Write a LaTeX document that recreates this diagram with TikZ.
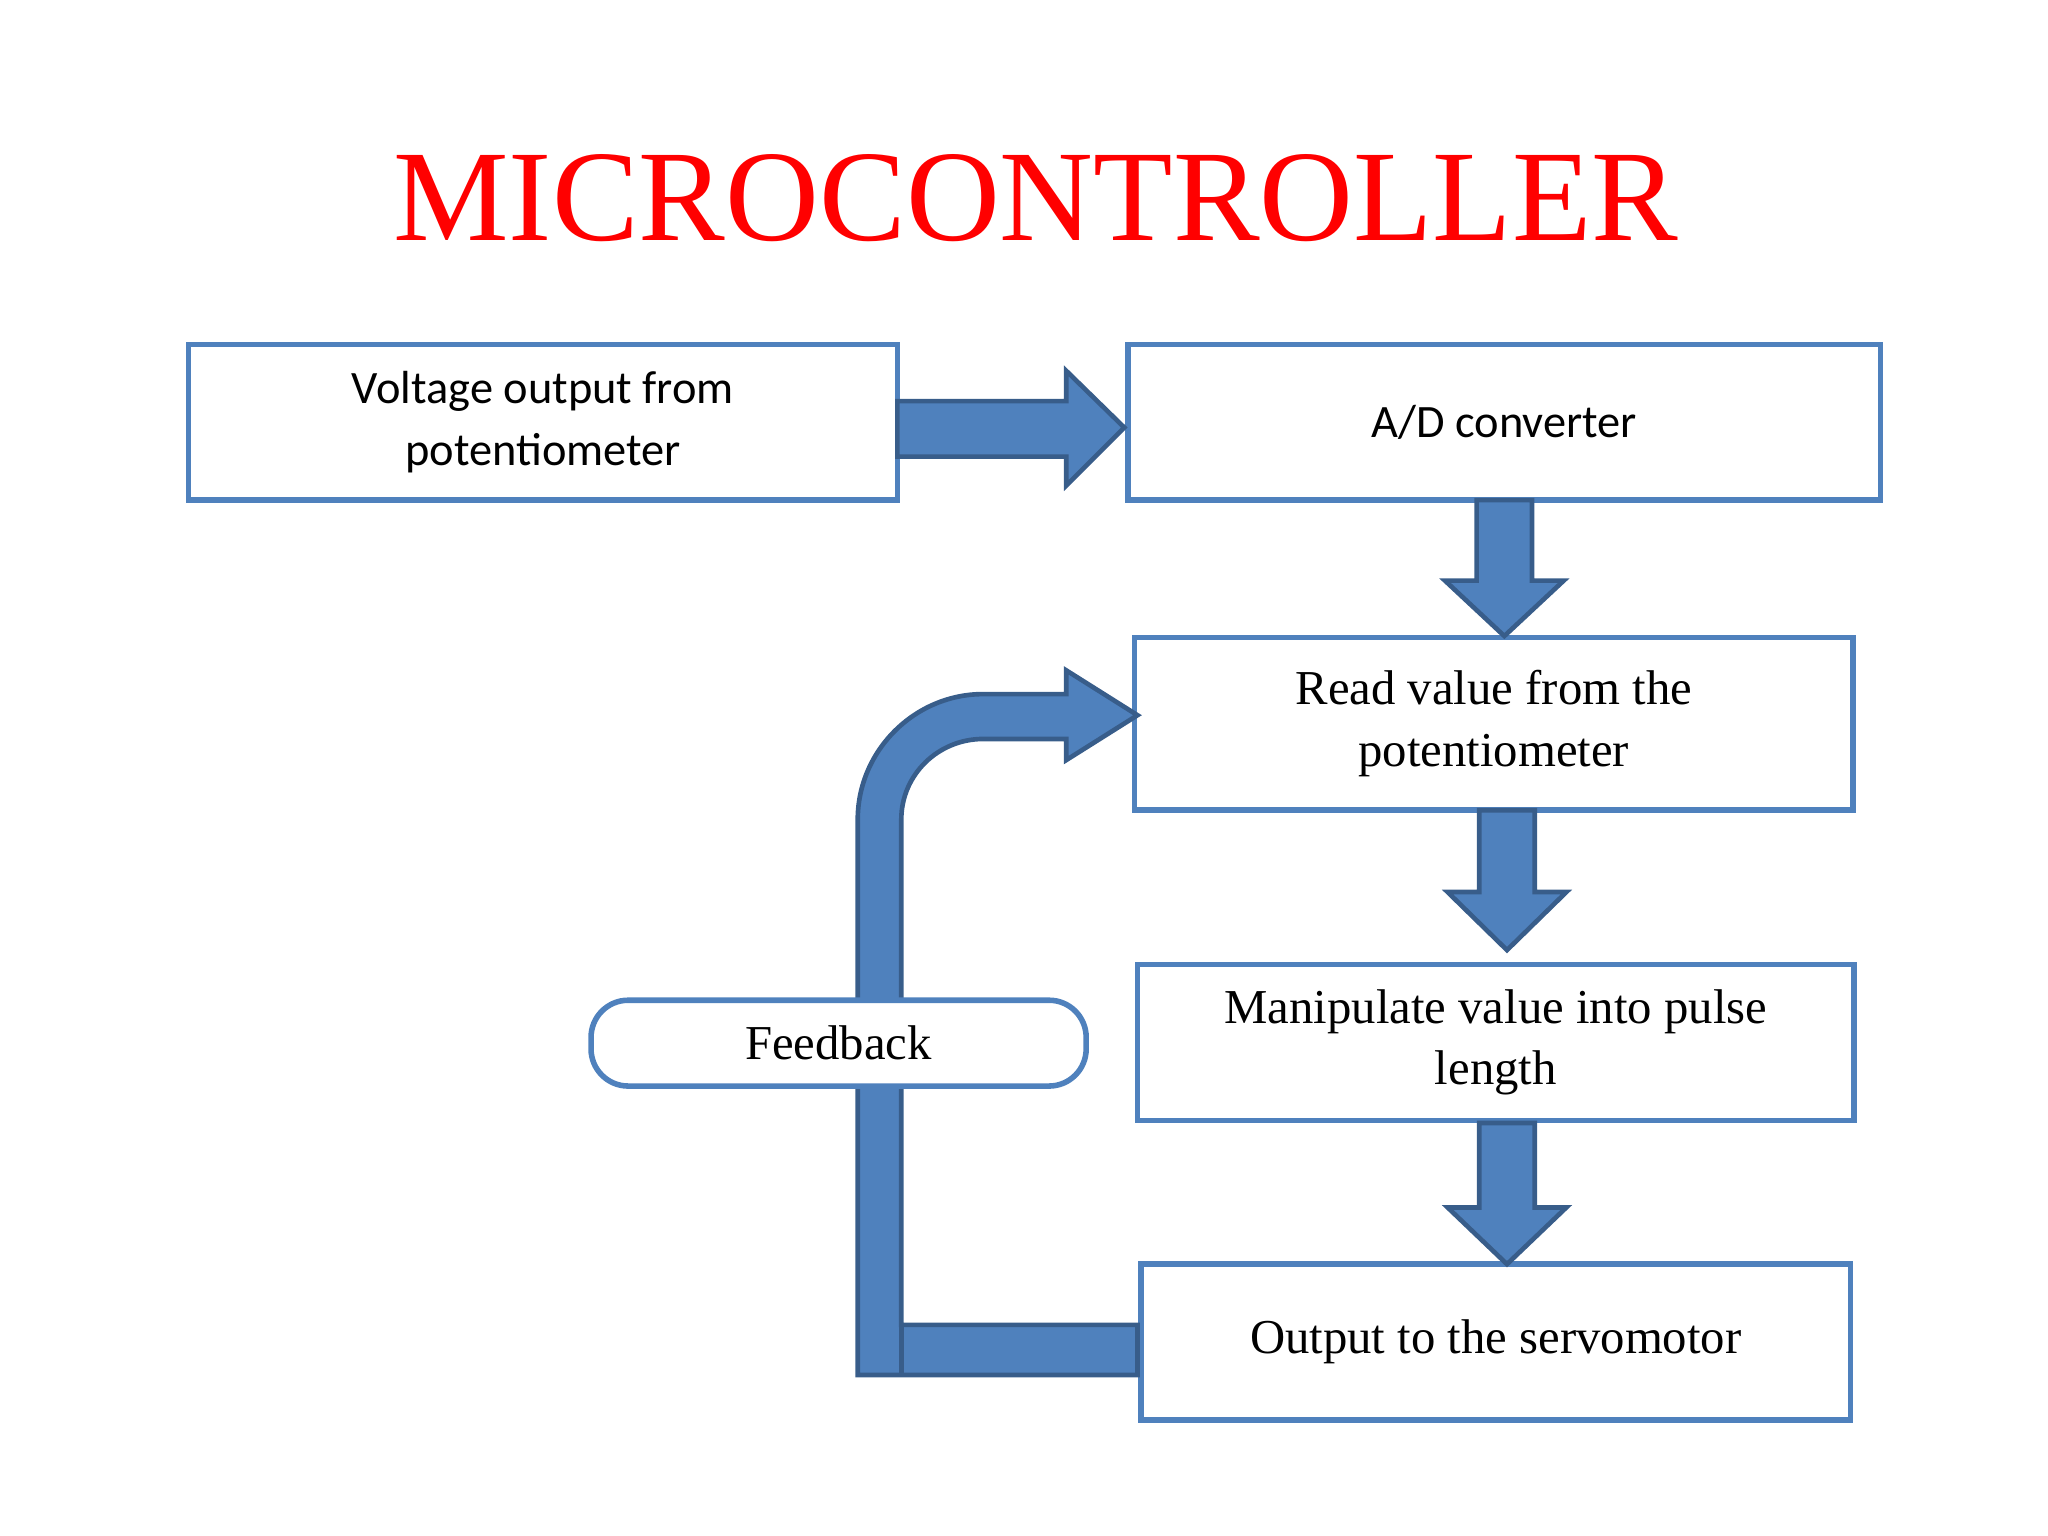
\documentclass[tikz,border=0pt]{standalone}
\usepackage{fontspec}
\setmainfont{Liberation Serif}
\newfontfamily\calib{Carlito}
\usetikzlibrary{calc}
\definecolor{boxblue}{RGB}{79,129,189}
\definecolor{edgeblue}{RGB}{56,93,138}
\definecolor{titlered}{RGB}{255,0,0}
\begin{document}
\begin{tikzpicture}[x=0.01cm,y=-0.01cm,
  box/.style={draw=boxblue, line width=1.2pt, fill=white, align=center,
    inner sep=0pt, font=\fontsize{10.5}{13.3}\selectfont},
  sbox/.style={box, font=\calib\fontsize{10}{13.3}\selectfont},
  barrow/.style={fill=boxblue, draw=edgeblue, line width=1pt, line join=miter}
]
  \useasboundingbox (0,0) rectangle (1552,1164);
  \node[text=titlered, font=\fontsize{28}{30}\selectfont] (title) at (785,150) {MICROCONTROLLER};

  % Boxes
  \node[sbox, minimum width=5.37cm, minimum height=1.18cm] (volt) at (411.5,320) {Voltage output from\\potentiometer};
  \node[sbox, minimum width=5.70cm, minimum height=1.18cm] (adc) at (1140,320) {A/D converter};
  \node[box, minimum width=5.44cm, minimum height=1.31cm] (read) at (1132,548.5) {Read value from the\\potentiometer};
  \node[box, minimum width=5.43cm, minimum height=1.18cm] (manip) at (1133.5,790) {Manipulate value into pulse\\length};
  \node[box, minimum width=5.37cm, minimum height=1.18cm] (out) at (1133.5,1017) {Output to the servomotor};

  % Block arrows
  \draw[barrow] (680,304) -- (808,304) -- (808,281) -- (852,324) -- (808,368) -- (808,346) -- (680,346) -- cycle;
  \draw[barrow] (1119,379) -- (1161,379) -- (1161,440) -- (1185,440) -- (1140,482) -- (1095,440) -- (1119,440) -- cycle;
  \draw[barrow] (1121,614) -- (1163,614) -- (1163,676) -- (1187,676) -- (1142,720) -- (1097,676) -- (1121,676) -- cycle;
  \draw[barrow] (1121,851) -- (1163,851) -- (1163,915) -- (1187,915) -- (1142,958) -- (1097,915) -- (1121,915) -- cycle;

  % Feedback arrow
  \draw[barrow] (862,1004) -- (683,1004) -- (683,621)
    .. controls (683,587) and (711,560) .. (745,560) -- (808,560) -- (808,576)
    -- (862,542) -- (808,508) -- (808,526) -- (745,526)
    .. controls (693,526) and (650,569) .. (650,621) -- (650,1042) -- (862,1042) -- cycle;
  \draw[edgeblue, line width=1pt] (683,1004) -- (683,1042);

  \node[box, rounded corners=8pt, minimum width=3.75cm, minimum height=0.65cm] (fb) at (635.5,790.5) {Feedback};
\end{tikzpicture}
\end{document}
